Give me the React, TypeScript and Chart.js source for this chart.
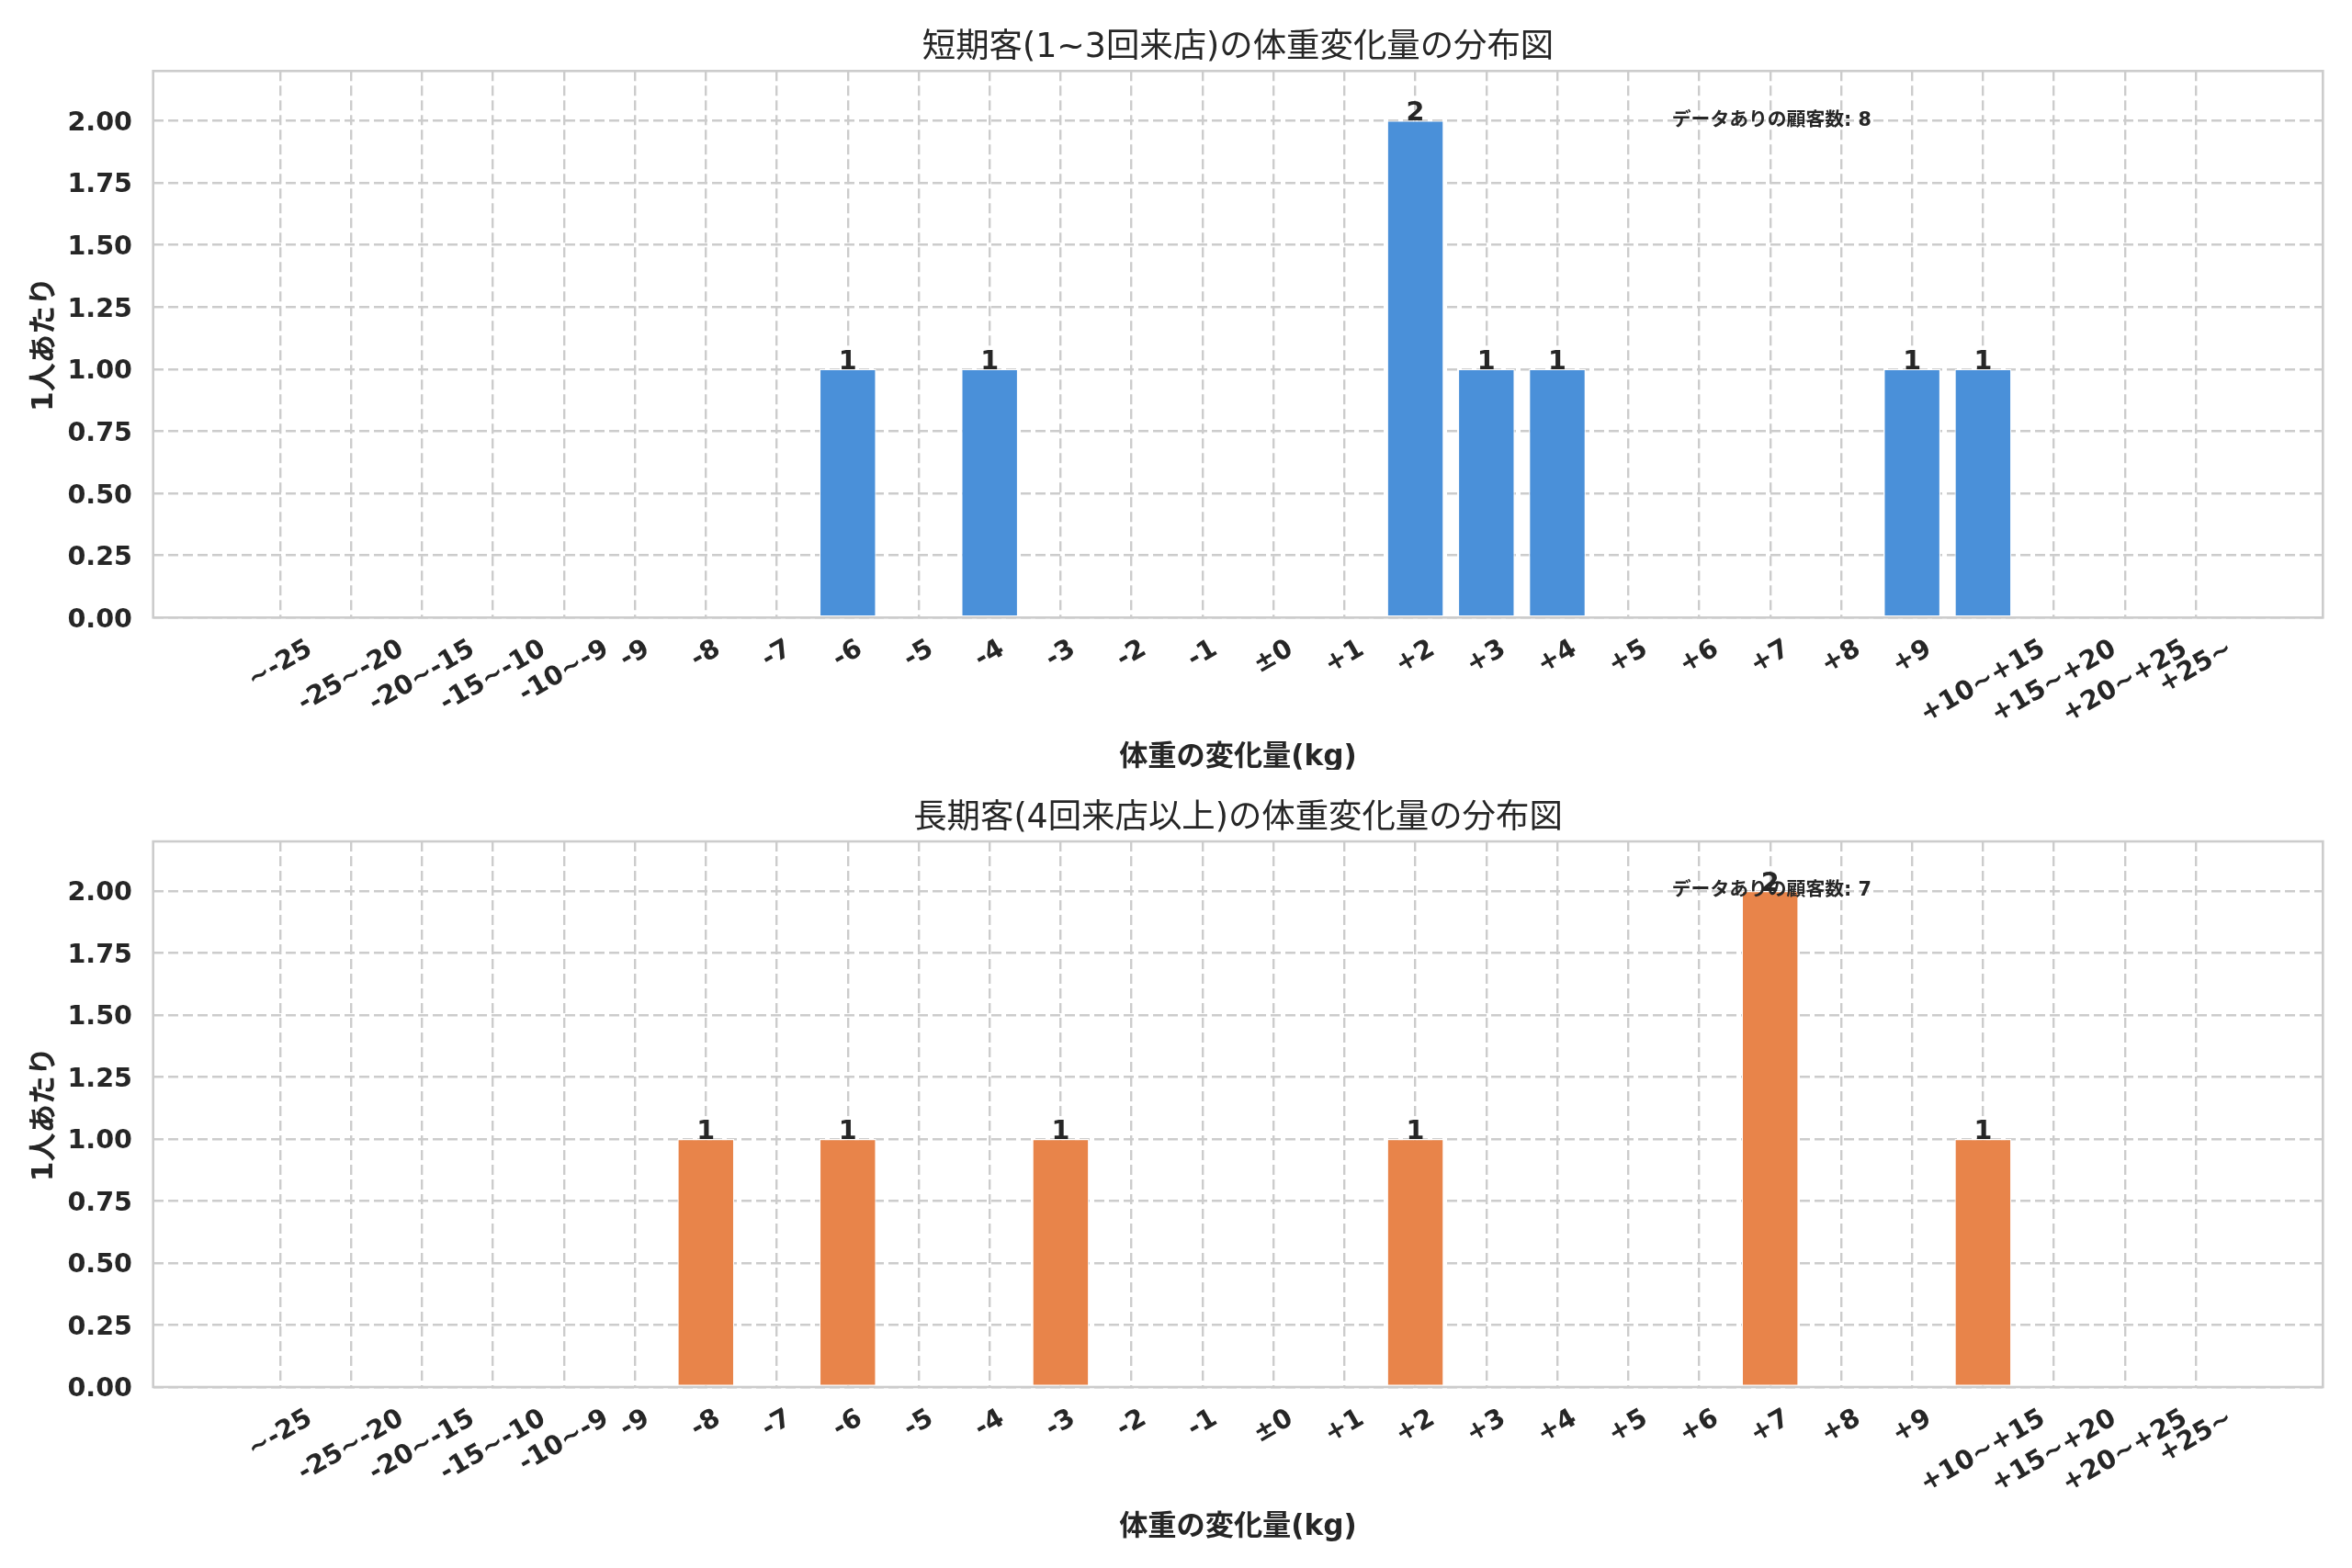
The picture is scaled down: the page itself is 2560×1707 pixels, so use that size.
import React, { useEffect, useRef } from "react";
import { Chart, registerables } from "chart.js";

Chart.register(...registerables);

// ---------- DATA ----------
const categories: string[] = [
  "~-25", "-25~-20", "-20~-15", "-15~-10", "-10~-9",
  "-9", "-8", "-7", "-6", "-5", "-4", "-3", "-2", "-1",
  "±0",
  "+1", "+2", "+3", "+4", "+5", "+6", "+7", "+8", "+9",
  "+10~+15", "+15~+20", "+20~+25", "+25~",
];

const shortTermCounts: number[] = [
  0, 0, 0, 0, 0,
  0, 0, 0, 1, 0, 1, 0, 0, 0,
  0,
  0, 2, 1, 1, 0, 0, 0, 0, 1,
  1, 0, 0, 0,
];

const longTermCounts: number[] = [
  0, 0, 0, 0, 0,
  0, 1, 0, 1, 0, 0, 1, 0, 0,
  0,
  0, 1, 0, 0, 0, 0, 2, 0, 0,
  1, 0, 0, 0,
];

const yTickValues: number[] = [0, 0.25, 0.5, 0.75, 1.0, 1.25, 1.5, 1.75, 2.0];

const titleShort = "短期客(1~3回来店)の体重変化量の分布図";
const titleLong = "長期客(4回来店以上)の体重変化量の分布図";
const xAxisLabel = "体重の変化量(kg)";
const yAxisLabel = "1人あたり";
const annotationLabel = "データありの顧客数";

// ---------- STYLE ----------
const FONT = '"DejaVu Sans", "Noto Sans CJK JP", sans-serif';
const TEXT = "#262626";
const GRID = "#cccccc";

const overlayPlugin = {
  id: "overlay",
  afterDraw(chart: any) {
    const o = chart.options.plugins.overlay;
    const { ctx, chartArea: a } = chart;
    const xs = chart.scales.x;
    const ys = chart.scales.y;
    ctx.save();

    // frame (spines)
    ctx.strokeStyle = GRID;
    ctx.lineWidth = 2.6;
    ctx.setLineDash([]);
    ctx.strokeRect(a.left, a.top, a.right - a.left, a.bottom - a.top);

    ctx.fillStyle = TEXT;
    const fs = 28.6;

    // y tick labels
    ctx.font = `bold ${fs}px ${FONT}`;
    ctx.textAlign = "right";
    ctx.textBaseline = "alphabetic";
    yTickValues.forEach((v) => {
      ctx.fillText(v.toFixed(2), a.left - 22.7, ys.getPixelForValue(v) + 0.365 * fs);
    });

    // x tick labels, rotated 30°, centred on tick (matplotlib style)
    const th = Math.PI / 6;
    categories.forEach((lab, i) => {
      const px = xs.getPixelForValue(i);
      const w = ctx.measureText(lab).width;
      const h = 0.99 * fs;
      const bh = w * Math.sin(th) + h * Math.cos(th);
      const cy = a.bottom + 20 + bh / 2;
      ctx.save();
      ctx.translate(px, cy);
      ctx.rotate(-th);
      ctx.textAlign = "center";
      ctx.textBaseline = "alphabetic";
      ctx.fillText(lab, 0, 0.265 * fs);
      ctx.restore();
    });

    // bar value labels
    const meta = chart.getDatasetMeta(0);
    const vals: number[] = o.values;
    ctx.font = `bold ${fs}px ${FONT}`;
    ctx.textAlign = "center";
    ctx.textBaseline = "alphabetic";
    meta.data.forEach((el: any, i: number) => {
      if (vals[i] > 0) ctx.fillText(String(vals[i]), el.x, el.y);
    });

    // annotation
    ctx.font = `bold 20.8px ${FONT}`;
    ctx.textAlign = "left";
    const total = vals.reduce((s, v) => s + v, 0);
    ctx.fillText(
      `${annotationLabel}: ${total}`,
      a.left + 0.7 * (a.right - a.left),
      a.bottom - 0.9 * (a.bottom - a.top)
    );

    // title
    ctx.font = `normal 36.4px ${FONT}`;
    ctx.textAlign = "center";
    ctx.fillText(o.title, (a.left + a.right) / 2, a.top - 15.3);

    // x axis label
    ctx.font = `bold 31.2px ${FONT}`;
    ctx.fillText(xAxisLabel, (a.left + a.right) / 2, a.bottom + 160.7);

    // y axis label
    ctx.save();
    ctx.translate(56.5, (a.top + a.bottom) / 2);
    ctx.rotate(-Math.PI / 2);
    ctx.textAlign = "center";
    ctx.fillText(yAxisLabel, 0, 0);
    ctx.restore();

    ctx.restore();
  },
};

type PanelProps = {
  title: string;
  values: number[];
  color: string;
  top: number;
  height: number;
  plotTop: number;
  plotBottom: number;
};

function Panel({ title, values, color, top, height, plotTop, plotBottom }: PanelProps) {
  const ref = useRef<HTMLCanvasElement | null>(null);
  useEffect(() => {
    if (!ref.current) return;
    const chart = new Chart(ref.current, {
      type: "bar",
      data: {
        datasets: [
          {
            data: values.map((v, i) => ({ x: i, y: v })),
            backgroundColor: color,
            borderColor: "#ffffff",
            borderWidth: 1.2,
            borderSkipped: false,
            categoryPercentage: 1,
            barPercentage: 0.8,
          } as any,
        ],
      },
      options: {
        animation: false,
        responsive: false,
        devicePixelRatio: 1,
        layout: {
          padding: { left: 0, right: 2560 - 2528.3, top: plotTop, bottom: height - plotBottom },
        },
        plugins: {
          legend: { display: false },
          tooltip: { enabled: false },
          title: { display: false },
          overlay: { title, values },
        } as any,
        scales: {
          x: {
            type: "linear",
            min: -1.79,
            max: 28.79,
            offset: false,
            bounds: "data",
            afterBuildTicks: (s: any) => {
              s.ticks = categories.map((_, i) => ({ value: i }));
            },
            afterFit: (s: any) => {
              s.height = 0;
            },
            ticks: { display: false },
            grid: { color: GRID, lineWidth: 2.4, drawTicks: false, offset: false },
            border: { display: false, dash: [11, 5] },
          },
          y: {
            type: "linear",
            min: 0,
            max: 2.2,
            afterBuildTicks: (s: any) => {
              s.ticks = yTickValues.map((v) => ({ value: v }));
            },
            afterFit: (s: any) => {
              s.width = 166.7;
            },
            ticks: { display: false },
            grid: { color: GRID, lineWidth: 2.4, drawTicks: false },
            border: { display: false, dash: [11, 5] },
          },
        },
      } as any,
      plugins: [overlayPlugin],
    });
    return () => chart.destroy();
  }, [title, values, color, height, plotTop, plotBottom]);

  return (
    <canvas
      ref={ref}
      width={2560}
      height={height}
      style={{ position: "absolute", left: 0, top, width: 2560, height, display: "block" }}
    />
  );
}

export default function App() {
  return (
    <div
      style={{
        position: "absolute",
        left: 0,
        top: 0,
        width: 2560,
        height: 1707,
        background: "#ffffff",
        overflow: "hidden",
      }}
    >
      <Panel
        title={titleShort}
        values={shortTermCounts}
        color="#4A90D9"
        top={0}
        height={838}
        plotTop={77.3}
        plotBottom={672.3}
      />
      <Panel
        title={titleLong}
        values={longTermCounts}
        color="#E8844A"
        top={838}
        height={869}
        plotTop={78}
        plotBottom={672}
      />
    </div>
  );
}
